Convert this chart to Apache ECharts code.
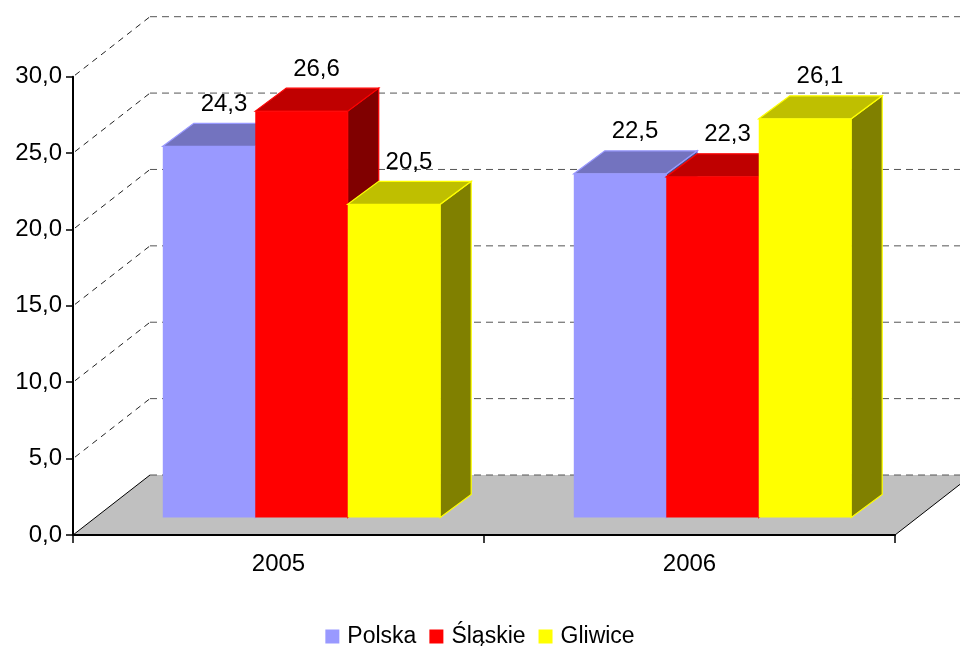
<!DOCTYPE html>
<html>
<head>
<meta charset="utf-8">
<script src="https://cdn.jsdelivr.net/npm/echarts@6/dist/echarts.min.js"></script>
<style>
  html, body { margin: 0; padding: 0; background: #fff; }
  #main { width: 960px; height: 646px; }
</style>
</head>
<body>
<div id="main"></div>
<script>
// dane wykresu
var years = ['2005', '2006'];
var polska = [24.3, 22.5];
var slaskie = [26.6, 22.3];
var gliwice = [20.5, 26.1];
var yTicks = [0, 5, 10, 15, 20, 25, 30];

var FONT = '"Liberation Sans", Arial, sans-serif';

// glebokosc sciany (przesuniecie tylnej plaszczyzny)
var WALL_DX = 77, WALL_DY = -60;
// przesuniecie przedniej sciany slupka i glebokosc slupka
var FRONT_DX = 23, FRONT_DY = -17.5;
var BAR_DX = 31, BAR_DY = -23;
var BAR_RATIO = 0.225;

var palette = [
  { front: '#9999FF', top: '#7373BF', side: '#4D4D80' },
  { front: '#FF0000', top: '#BF0000', side: '#800000' },
  { front: '#FFFF00', top: '#BFBF00', side: '#808000' }
];

function fmt(v) {
  return v.toFixed(1).replace('.', ',');
}

function wallRender(params, api) {
  if (params.dataIndex !== 0) return;
  var cs = params.coordSys;
  var x0 = cs.x, x1 = cs.x + cs.width, yb = cs.y + cs.height;
  var children = [];
  children.push({
    type: 'polygon',
    shape: { points: [[x0, yb], [x1, yb], [x1 + WALL_DX, yb + WALL_DY], [x0 + WALL_DX, yb + WALL_DY]] },
    style: { fill: '#C0C0C0' }
  });
  children.push({
    type: 'line',
    shape: { x1: x0, y1: yb, x2: x0 + WALL_DX, y2: yb + WALL_DY },
    style: { stroke: '#000', lineWidth: 1 }
  });
  children.push({
    type: 'line',
    shape: { x1: x1, y1: yb, x2: x1 + WALL_DX, y2: yb + WALL_DY },
    style: { stroke: '#000', lineWidth: 1 }
  });
  yTicks.forEach(function (v) {
    var y = api.coord([0, v])[1];
    if (v !== 0) {
      children.push({
        type: 'line',
        shape: { x1: x0 + 2, y1: y - 1.5, x2: x0 + WALL_DX, y2: y + WALL_DY },
        style: { stroke: '#222', lineWidth: 1, lineDash: [6, 5] }
      });
    }
    children.push({
      type: 'line',
      shape: { x1: x0 + WALL_DX, y1: y + WALL_DY, x2: x1 + WALL_DX + 20, y2: y + WALL_DY },
      style: { stroke: '#555', lineWidth: 1, lineDash: [7, 5] }
    });
  });
  return { type: 'group', children: children };
}

function barRender(k) {
  var col = palette[k];
  return function (params, api) {
    var cat = api.value(0), v = api.value(1);
    var band = api.size([1, 0])[0];
    var w = band * BAR_RATIO;
    var base = api.coord([cat, 0]);
    var yTop = api.coord([cat, v])[1] + FRONT_DY;
    var yBot = base[1] + FRONT_DY;
    var xl = base[0] - 1.5 * w + k * w + FRONT_DX;
    var xr = xl + w;
    return {
      type: 'group',
      children: [
        {
          type: 'polygon',
          shape: { points: [[xr, yBot], [xr + BAR_DX, yBot + BAR_DY], [xr + BAR_DX, yTop + BAR_DY], [xr, yTop]] },
          style: { fill: col.side, stroke: col.front, lineWidth: 1.2 }
        },
        {
          type: 'polygon',
          shape: { points: [[xl, yTop], [xl + BAR_DX, yTop + BAR_DY], [xr + BAR_DX, yTop + BAR_DY], [xr, yTop]] },
          style: { fill: col.top, stroke: col.front, lineWidth: 1.2 }
        },
        {
          type: 'rect',
          shape: { x: xl, y: yTop, width: w, height: yBot - yTop },
          style: { fill: col.front }
        },
        {
          type: 'text',
          x: (xl + xr) / 2 + 15,
          y: yTop + BAR_DY - 19,
          style: {
            text: fmt(v),
            fill: '#000',
            font: '24px ' + FONT,
            align: 'center',
            verticalAlign: 'middle'
          }
        }
      ]
    };
  };
}

function toData(arr) {
  return arr.map(function (v, i) { return [i, v]; });
}

var chart = echarts.init(document.getElementById('main'));
var option = {
  animation: false,
  backgroundColor: '#fff',
  grid: { left: 73, right: 65, top: 76.7, bottom: 111, containLabel: false },
  legend: {
    data: ['Polska', 'Śląskie', 'Gliwice'],
    top: 620,
    left: 'center',
    icon: 'rect',
    itemWidth: 14,
    itemHeight: 14,
    itemGap: 13,
    textStyle: { fontSize: 23, fontFamily: FONT, color: '#000', padding: [0, 0, 0, 3] }
  },
  xAxis: {
    type: 'category',
    data: years,
    z: 10,
    axisLine: { lineStyle: { color: '#000', width: 2 } },
    axisTick: { show: true, length: 8, lineStyle: { color: '#000', width: 1.5 } },
    axisLabel: { fontSize: 24, fontFamily: FONT, color: '#000', margin: 17 },
    splitLine: { show: false }
  },
  yAxis: {
    type: 'value',
    min: yTicks[0],
    max: yTicks[yTicks.length - 1],
    interval: 5,
    z: 10,
    axisLine: { show: true, lineStyle: { color: '#000', width: 2 } },
    axisTick: { show: true, length: 7, lineStyle: { color: '#000', width: 1.5 } },
    axisLabel: { fontSize: 24, fontFamily: FONT, color: '#000', margin: 11, formatter: fmt },
    splitLine: { show: false }
  },
  series: [
    {
      type: 'custom',
      silent: true,
      z: 1,
      renderItem: wallRender,
      data: [[0, 0]]
    },
    {
      name: 'Polska',
      type: 'custom',
      z: 2,
      itemStyle: { color: palette[0].front },
      renderItem: barRender(0),
      data: toData(polska)
    },
    {
      name: 'Śląskie',
      type: 'custom',
      z: 2,
      itemStyle: { color: palette[1].front },
      renderItem: barRender(1),
      data: toData(slaskie)
    },
    {
      name: 'Gliwice',
      type: 'custom',
      z: 2,
      itemStyle: { color: palette[2].front },
      renderItem: barRender(2),
      data: toData(gliwice)
    }
  ]
};
chart.setOption(option);
</script>
</body>
</html>
